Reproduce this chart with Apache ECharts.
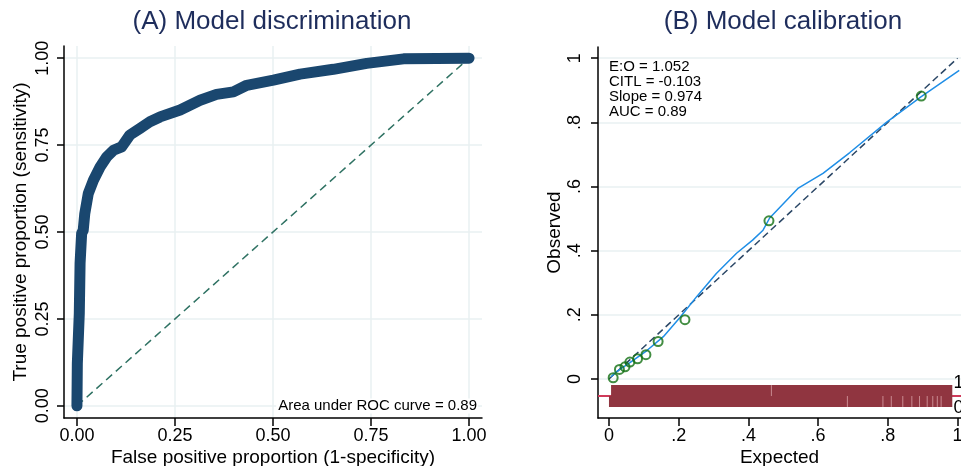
<!DOCTYPE html>
<html>
<head>
<meta charset="utf-8">
<script src="https://cdn.jsdelivr.net/npm/echarts@6/dist/echarts.min.js"></script>
<style>
  html, body { margin: 0; padding: 0; background: #fff; }
  #chart { width: 961px; height: 466px; }
</style>
</head>
<body>
<div id="chart"></div>
<script>
// (A) ROC curve
const rocFpr = [0, 0.001, 0.006, 0.008, 0.012, 0.016, 0.020, 0.029, 0.042, 0.059, 0.076, 0.093, 0.114, 0.135,
  0.161, 0.186, 0.212, 0.263, 0.314, 0.356, 0.399, 0.433, 0.501, 0.569, 0.654, 0.739, 0.833, 1.0]
const rocTpr = [0, 0.122, 0.266, 0.410, 0.496, 0.505, 0.553, 0.611, 0.649, 0.687, 0.716, 0.735, 0.745, 0.779,
  0.798, 0.817, 0.831, 0.851, 0.879, 0.896, 0.903, 0.922, 0.937, 0.954, 0.968, 0.985, 0.998, 1.0]
const rocTicks = [0, 0.25, 0.5, 0.75, 1]
const rocTickLabels = ['0.00', '0.25', '0.50', '0.75', '1.00']

// (B) calibration: grouped observed vs expected, lowess smoother, rug of predictions
const calExpected = [0.012, 0.030, 0.046, 0.060, 0.082, 0.106, 0.141, 0.218, 0.459, 0.896]
const calObserved = [0.004, 0.030, 0.038, 0.053, 0.063, 0.076, 0.117, 0.185, 0.493, 0.882]
const lowessX = [0.006, 0.022, 0.060, 0.108, 0.156, 0.203, 0.251, 0.308, 0.366, 0.412, 0.442, 0.461,
  0.542, 0.547, 0.614, 0.691, 0.796, 0.896, 1.005]
const lowessY = [0.007, 0.023, 0.051, 0.088, 0.132, 0.191, 0.256, 0.329, 0.392, 0.433, 0.464, 0.502,
  0.594, 0.597, 0.641, 0.706, 0.800, 0.880, 0.962]
const calTicks = [0, 0.2, 0.4, 0.6, 0.8, 1]
const calTickLabels = ['0', '.2', '.4', '.6', '.8', '1']
// rug: covered ranges of predicted risk, and thin gaps inside them
const rugEventSpans = [[0.006, 0.985]]
const rugNonEventSpans = [[0.0, 0.985]]
const rugEventGaps = [0.466]
const rugNonEventGaps = [0.684, 0.786, 0.81, 0.843, 0.869, 0.891, 0.913, 0.929, 0.942, 0.953]
const rugTop = -0.019
const rugMid = -0.053
const rugBottom = -0.087

const FONT = '"Liberation Sans", Arial, Helvetica, sans-serif'
const gridColor = '#e8f0f2'
const chart = echarts.init(document.getElementById('chart'))

function tickFormatter(ticks, labels) {
  return (v) => {
    const i = ticks.findIndex((t) => Math.abs(t - v) < 1e-9)
    return i < 0 ? '' : labels[i]
  }
}
function axisBase(ticks, labels, extra) {
  const ax = {
    type: 'value',
    axisLine: { show: true, onZero: false, lineStyle: { color: '#000', width: 1.5 } },
    axisTick: { show: true, customValues: ticks, length: 7, lineStyle: { color: '#000', width: 1.5 } },
    axisLabel: { customValues: ticks, formatter: tickFormatter(ticks, labels), color: '#000', fontSize: 18, fontFamily: FONT, hideOverlap: false },
    splitLine: { show: true, lineStyle: { color: gridColor, width: 1.5 } },
    nameLocation: 'middle',
    nameMoveOverlap: false,
    nameTextStyle: { color: '#000', fontSize: 19, fontFamily: FONT }
  }
  Object.keys(extra).forEach((k) => {
    ax[k] = (typeof extra[k] === 'object' && ax[k]) ? Object.assign({}, ax[k], extra[k]) : extra[k]
  })
  return ax
}

const rugRects = rugEventSpans.map((s) => [s[0], s[1], rugTop, rugMid])
  .concat(rugNonEventSpans.map((s) => [s[0], s[1], rugMid, rugBottom]))
const rugGapLines = rugEventGaps.map((x) => [x, rugTop, rugMid])
  .concat(rugNonEventGaps.map((x) => [x, rugMid, rugBottom]))

chart.setOption({
  animation: false,
  grid: [
    { left: 64, top: 46, width: 418, height: 372, outerBoundsMode: 'none' },
    { left: 598, top: 47, width: 363, height: 371, outerBoundsMode: 'none' }
  ],
  xAxis: [
    axisBase(rocTicks, rocTickLabels, {
      gridIndex: 0, min: -0.033, max: 1.033,
      axisTick: { length: 8 }, axisLabel: { margin: 9 },
      name: 'False positive proportion (1-specificity)', nameGap: 30
    }),
    axisBase(calTicks, calTickLabels, {
      gridIndex: 1, min: -0.0315, max: 1.01, splitLine: { show: false },
      axisTick: { length: 8 }, axisLabel: { margin: 9 },
      name: 'Expected', nameGap: 30
    })
  ],
  yAxis: [
    axisBase(rocTicks, rocTickLabels, {
      gridIndex: 0, min: -0.035, max: 1.035,
      axisLabel: { rotate: 90, margin: 12 },
      name: 'True positive proportion (sensitivity)', nameGap: 34
    }),
    axisBase(calTicks, calTickLabels, {
      gridIndex: 1, min: -0.1215, max: 1.035,
      axisLabel: { rotate: 90, margin: 14 },
      name: 'Observed', nameGap: 34
    })
  ],
  series: [
    {
      type: 'line', xAxisIndex: 0, yAxisIndex: 0, z: 2, showSymbol: false, silent: true,
      data: [[0, 0], [1, 1]],
      lineStyle: { color: '#2f7263', width: 1.5, type: [8, 5] }
    },
    {
      type: 'line', xAxisIndex: 0, yAxisIndex: 0, z: 3, showSymbol: false,
      data: rocFpr.map((x, i) => [x, rocTpr[i]]),
      lineStyle: { color: '#1a476f', width: 11, cap: 'round', join: 'round' }
    },
    {
      type: 'line', xAxisIndex: 1, yAxisIndex: 1, z: 1, showSymbol: false,
      data: [[-0.0315, rugMid], [1.01, rugMid]],
      lineStyle: { color: '#d03a5a', width: 2 }
    },
    {
      type: 'custom', xAxisIndex: 1, yAxisIndex: 1, z: 2,
      data: rugRects,
      renderItem: (params, api) => {
        const a = api.coord([api.value(0), api.value(2)])
        const b = api.coord([api.value(1), api.value(3)])
        return { type: 'rect', shape: { x: a[0], y: a[1], width: b[0] - a[0], height: b[1] - a[1] }, style: { fill: '#903540' } }
      }
    },
    {
      type: 'custom', xAxisIndex: 1, yAxisIndex: 1, z: 3,
      data: rugGapLines,
      renderItem: (params, api) => {
        const a = api.coord([api.value(0), api.value(1)])
        const b = api.coord([api.value(0), api.value(2)])
        return { type: 'line', shape: { x1: a[0], y1: a[1], x2: b[0], y2: b[1] }, style: { stroke: '#c98a90', lineWidth: 1 } }
      }
    },
    {
      type: 'custom', xAxisIndex: 1, yAxisIndex: 1, z: 4,
      data: [[1, rugTop + 0.007, '1'], [1, rugBottom - 0.003, '0']],
      renderItem: (params, api) => {
        const p = api.coord([api.value(0), api.value(1)])
        return { type: 'text', x: p[0] - 4, y: p[1], style: { text: api.value(2), fill: '#000', fontSize: 18, fontFamily: FONT, verticalAlign: 'middle' } }
      }
    },
    {
      type: 'line', xAxisIndex: 1, yAxisIndex: 1, z: 3, showSymbol: false,
      data: [[0, 0], [1, 1]],
      lineStyle: { color: '#2b4766', width: 1.5, type: [7, 4] }
    },
    {
      type: 'line', xAxisIndex: 1, yAxisIndex: 1, z: 4, showSymbol: false,
      data: lowessX.map((x, i) => [x, lowessY[i]]),
      lineStyle: { color: '#1f8ee6', width: 1.5 }
    },
    {
      type: 'scatter', xAxisIndex: 1, yAxisIndex: 1, z: 5,
      data: calExpected.map((x, i) => [x, calObserved[i]]),
      symbol: 'circle', symbolSize: 9,
      itemStyle: { color: 'rgba(0,0,0,0)', borderColor: '#137013', borderWidth: 2 }
    }
  ],
  graphic: [
    { type: 'text', z: 100, x: 272, y: 22, style: { text: '(A) Model discrimination', fill: '#1e2d5c', fontSize: 26, fontFamily: FONT, align: 'center', verticalAlign: 'middle' } },
    { type: 'text', z: 100, x: 783, y: 22, style: { text: '(B) Model calibration', fill: '#1e2d5c', fontSize: 26, fontFamily: FONT, align: 'center', verticalAlign: 'middle' } },
    { type: 'text', z: 100, x: 478, y: 406, style: { text: 'Area under ROC curve = 0.89', fill: '#000', fontSize: 15, fontFamily: FONT, align: 'right', verticalAlign: 'middle', backgroundColor: '#fff', padding: [0, 1, 0, 2] } },
    { type: 'text', z: 100, x: 609, y: 59, style: { text: 'E:O = 1.052\nCITL = -0.103\nSlope = 0.974\nAUC = 0.89', fill: '#000', fontSize: 15, lineHeight: 15, fontFamily: FONT, align: 'left', verticalAlign: 'top' } }
  ]
})
</script>
</body>
</html>
